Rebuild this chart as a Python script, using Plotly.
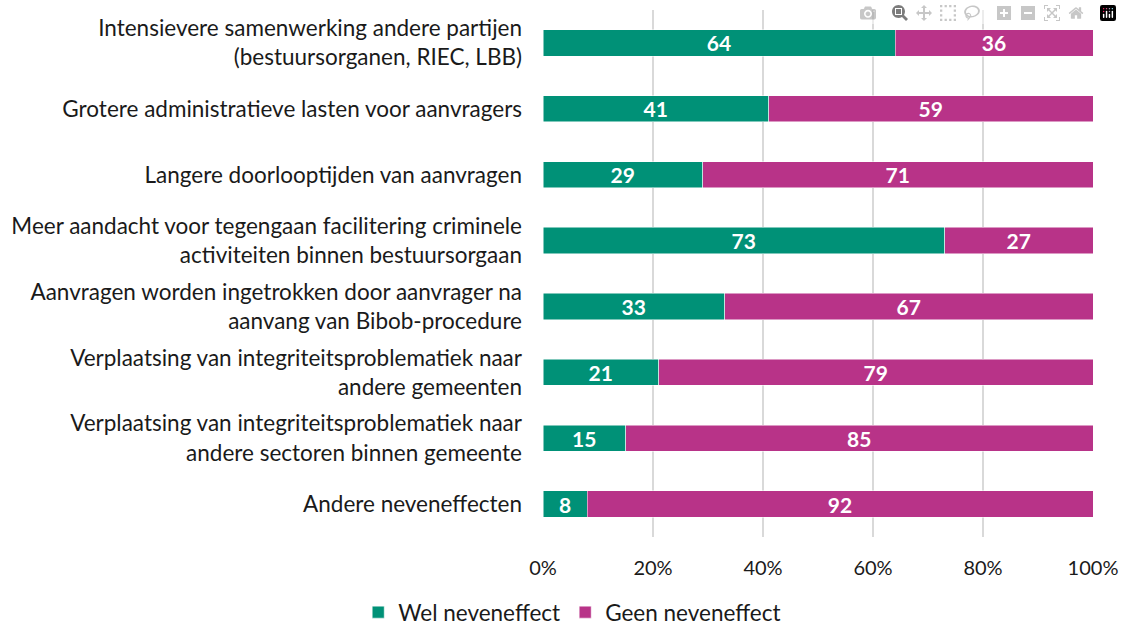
import plotly.graph_objects as go

categories = [
    "Intensievere samenwerking andere partijen<br>(bestuursorganen, RIEC, LBB)",
    "Grotere administratieve lasten voor aanvragers",
    "Langere doorlooptijden van aanvragen",
    "Meer aandacht voor tegengaan facilitering criminele<br>activiteiten binnen bestuursorgaan",
    "Aanvragen worden ingetrokken door aanvrager na<br>aanvang van Bibob-procedure",
    "Verplaatsing van integriteitsproblematiek naar<br>andere gemeenten",
    "Verplaatsing van integriteitsproblematiek naar<br>andere sectoren binnen gemeente",
    "Andere neveneffecten",
]
wel = [64, 41, 29, 73, 33, 21, 15, 8]
geen = [36, 59, 71, 27, 67, 79, 85, 92]
series_names = ["Wel neveneffect", "Geen neveneffect"]
colors = ["#009177", "#B83388"]
tick_vals = [0, 20, 40, 60, 80, 100]
tick_text = ["0%", "20%", "40%", "60%", "80%", "100%"]

FONT = "Lato, Calibri, Carlito, sans-serif"

fig = go.Figure()
for name, vals, col in zip(series_names, [wel, geen], colors):
    fig.add_trace(go.Bar(
        y=categories, x=vals, name=name, orientation="h",
        marker=dict(color=col, line=dict(color="white", width=0.5)),
        text=vals, texttemplate="%{text}", textposition="inside",
        insidetextanchor="middle", textangle=0, constraintext="none",
        textfont=dict(color="white", size=21, family=FONT, weight="bold"),
        width=0.4,
    ))

fig.update_layout(
    barmode="stack",
    width=1122, height=634,
    margin=dict(l=543, r=29, t=10, b=97, autoexpand=False),
    plot_bgcolor="white", paper_bgcolor="white",
    font=dict(family=FONT, size=22, color="#1a1a1a"),
    showlegend=True,
    legend=dict(orientation="h", xref="container", yref="container",
                x=0.51, xanchor="center", y=0.0, yanchor="bottom",
                font=dict(size=22.5), traceorder="normal",
                itemwidth=30),
    uniformtext=dict(mode=False),
)
fig.update_xaxes(range=[0, 100], tickvals=tick_vals, ticktext=tick_text,
                 showgrid=True, gridcolor="#D9D9D9", gridwidth=1.5,
                 zeroline=False, showline=False, ticks="", ticklen=0,
                 automargin=False, ticklabelstandoff=17,
                 tickfont=dict(size=20), fixedrange=True)
fig.update_yaxes(autorange="reversed", categoryorder="array", categoryarray=categories,
                 showgrid=False, zeroline=False, showline=False, ticks="",
                 automargin=False, ticklabelstandoff=20, tickfont=dict(size=22.5))

fig.write_html("out.html",
               post_script="document.body.style.margin='0';document.body.style.overflow='hidden';")
